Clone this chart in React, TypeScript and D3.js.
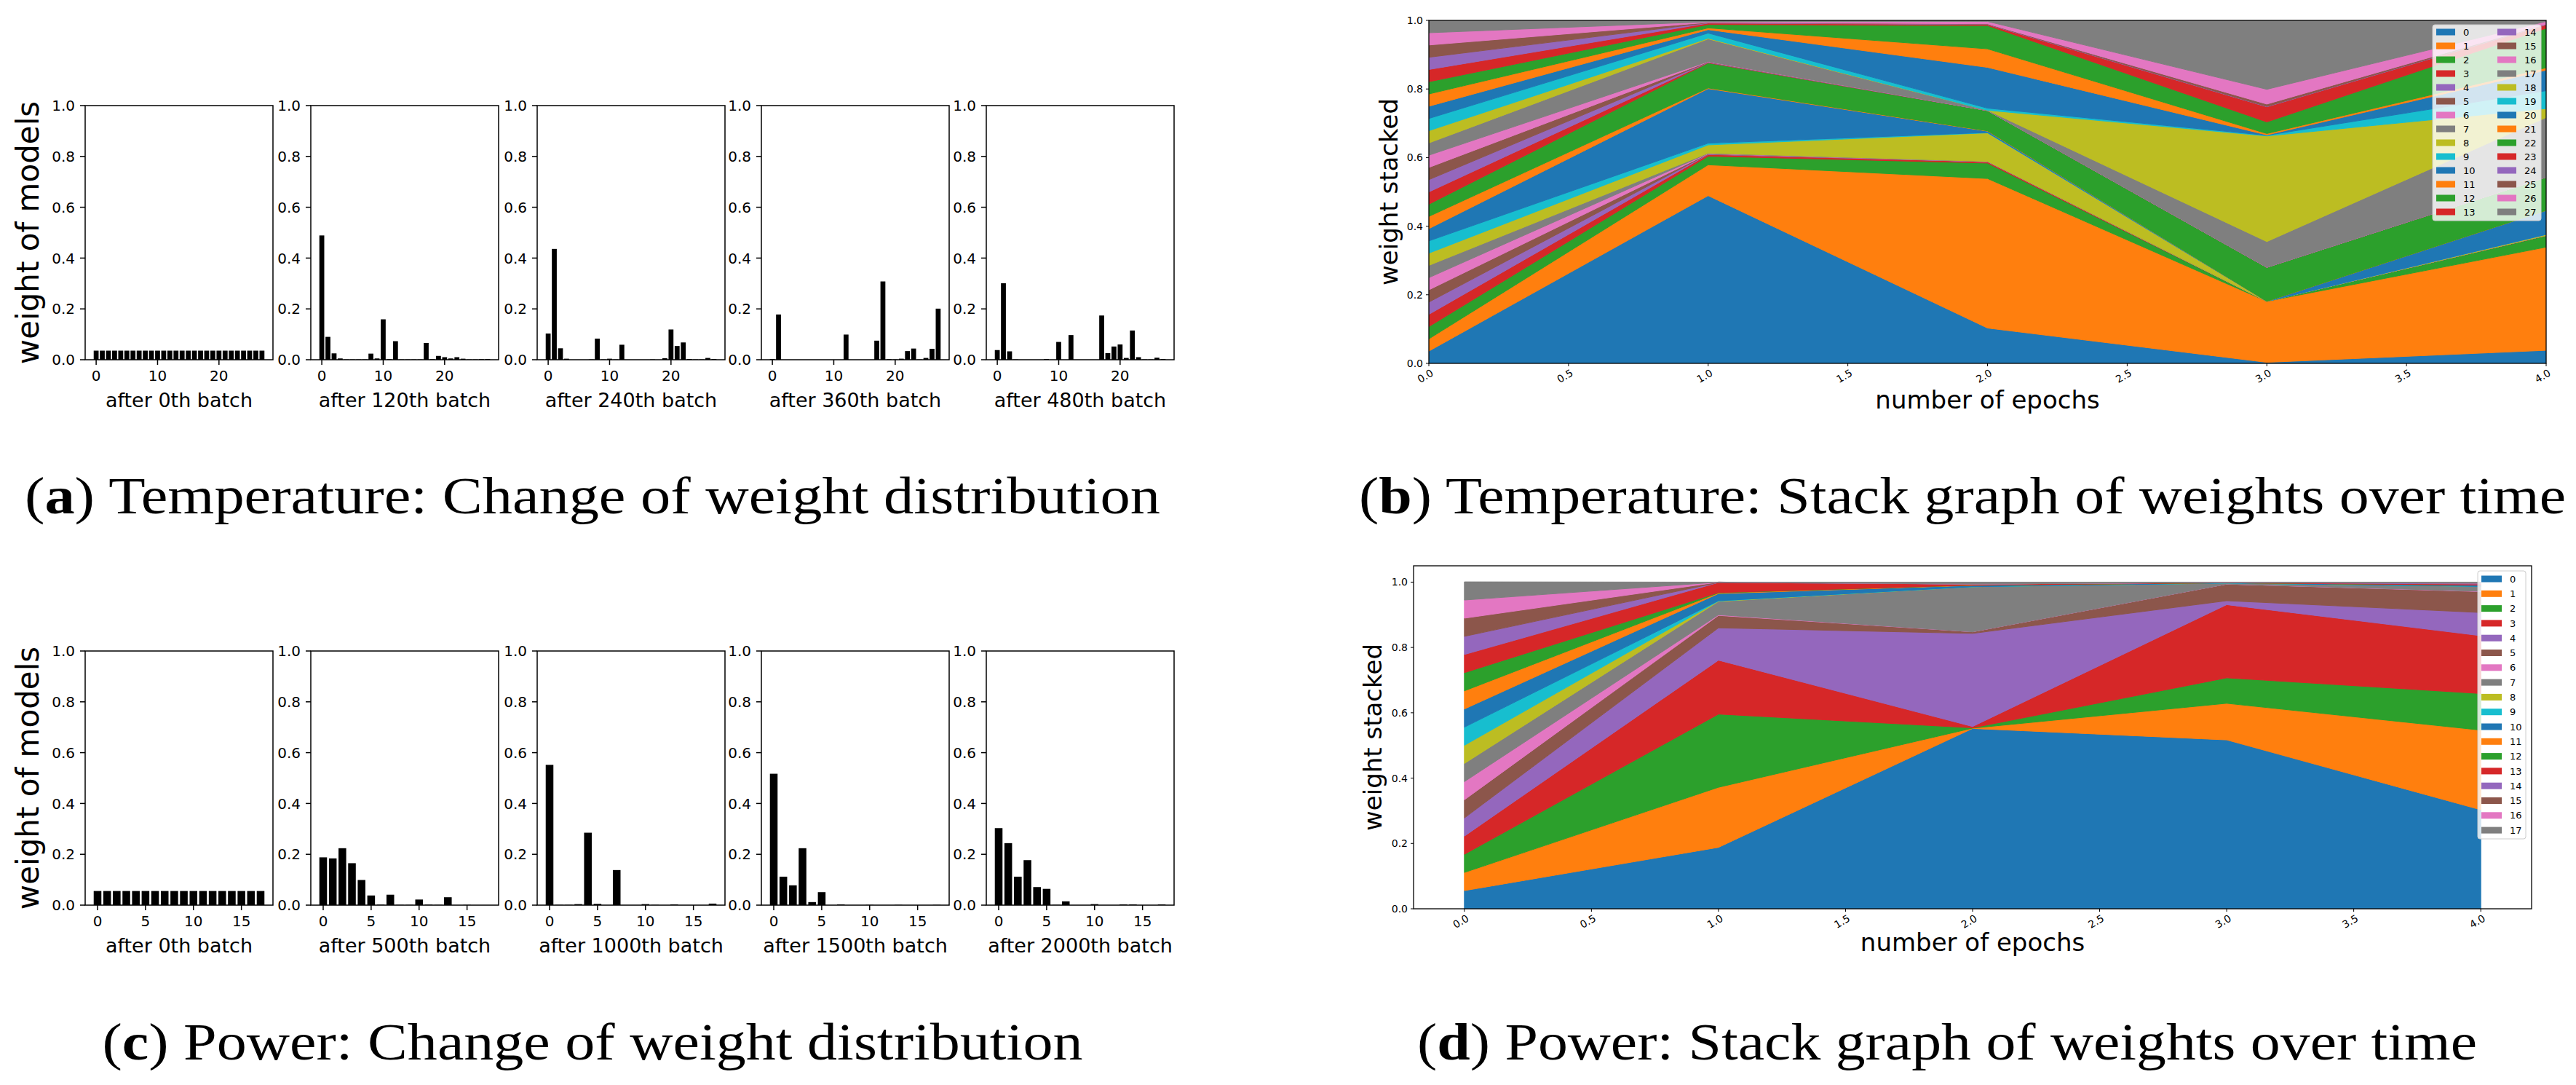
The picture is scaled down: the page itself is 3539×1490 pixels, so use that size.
import React from 'react';
import * as d3 from 'd3';

const TAB10 = ['#1f77b4', '#ff7f0e', '#2ca02c', '#d62728', '#9467bd', '#8c564b', '#e377c2', '#7f7f7f', '#bcbd22', '#17becf'];

// model ids (categories)
const tempModels = d3.range(28);
const powerModels = d3.range(18);
const epochs = [0, 1, 2, 3, 4];

const tempBatchLabels = ['after 0th batch', 'after 120th batch', 'after 240th batch', 'after 360th batch', 'after 480th batch'];
const powerBatchLabels = ['after 0th batch', 'after 500th batch', 'after 1000th batch', 'after 1500th batch', 'after 2000th batch'];

const barYTicks = [0, 0.2, 0.4, 0.6, 0.8, 1.0];
const tempXTicks = [0, 10, 20];
const powerXTicks = [0, 5, 10, 15];
const stackXTicks = [0, 0.5, 1.0, 1.5, 2.0, 2.5, 3.0, 3.5, 4.0];
const stackYTicks = [0, 0.2, 0.4, 0.6, 0.8, 1.0];

// temperature: weight of each model after each epoch (= 120 batches)
const tempEpoch0 = [0.0357, 0.0357, 0.0357, 0.0357, 0.0357, 0.0357, 0.0357, 0.0357, 0.0357, 0.0357, 0.0357, 0.0357, 0.0357, 0.0357,
  0.0357, 0.0357, 0.0357, 0.0357, 0.0357, 0.0357, 0.0357, 0.0357, 0.0357, 0.0357, 0.0357, 0.0357, 0.0357, 0.0357];
const tempEpoch1 = [0.489, 0.090, 0.025, 0.005, 0.001, 0.001, 0.001, 0.001, 0.024, 0.005, 0.159, 0.002, 0.073, 0.001,
  0.001, 0.001, 0.001, 0.066, 0.002, 0.015, 0.010, 0.005, 0.010, 0.004, 0.001, 0.001, 0.002, 0.003];
const tempEpoch2 = [0.103, 0.436, 0.045, 0.004, 0.000, 0.000, 0.000, 0.001, 0.083, 0.001, 0.004, 0.001, 0.059, 0.000,
  0.000, 0.000, 0.000, 0.001, 0.000, 0.006, 0.119, 0.054, 0.068, 0.003, 0.001, 0.001, 0.007, 0.003];
const tempEpoch3 = [0.003, 0.178, 0.000, 0.000, 0.000, 0.000, 0.000, 0.000, 0.000, 0.000, 0.000, 0.000, 0.099, 0.000,
  0.000, 0.000, 0.000, 0.075, 0.308, 0.002, 0.001, 0.004, 0.034, 0.044, 0.001, 0.007, 0.043, 0.201];
const tempEpoch4 = [0.038, 0.301, 0.033, 0.001, 0.000, 0.000, 0.000, 0.000, 0.003, 0.000, 0.070, 0.000, 0.097, 0.000,
  0.000, 0.000, 0.000, 0.174, 0.026, 0.052, 0.060, 0.007, 0.115, 0.010, 0.001, 0.001, 0.008, 0.003];

// power: weight of each model after each epoch (= 500 batches)
const powerEpoch0 = [0.0556, 0.0556, 0.0556, 0.0556, 0.0556, 0.0556, 0.0556, 0.0556, 0.0556,
  0.0556, 0.0556, 0.0556, 0.0556, 0.0556, 0.0556, 0.0556, 0.0556, 0.0556];
const powerEpoch1 = [0.188, 0.184, 0.224, 0.165, 0.099, 0.038, 0.002, 0.041, 0.001, 0.001, 0.022, 0.002, 0.001, 0.031, 0.000, 0.001, 0.000, 0.000];
const powerEpoch2 = [0.552, 0.001, 0.001, 0.004, 0.285, 0.005, 0.000, 0.138, 0.000, 0.000, 0.004, 0.001, 0.000, 0.003, 0.000, 0.000, 0.000, 0.006];
const powerEpoch3 = [0.517, 0.112, 0.078, 0.224, 0.012, 0.051, 0.000, 0.003, 0.000, 0.000, 0.001, 0.000, 0.000, 0.001, 0.000, 0.000, 0.000, 0.001];
const powerEpoch4 = [0.303, 0.244, 0.112, 0.177, 0.071, 0.064, 0.001, 0.015, 0.000, 0.000, 0.004, 0.000, 0.000, 0.003, 0.003, 0.000, 0.000, 0.003];

const tempWeights = [tempEpoch0, tempEpoch1, tempEpoch2, tempEpoch3, tempEpoch4];
const powerWeights = [powerEpoch0, powerEpoch1, powerEpoch2, powerEpoch3, powerEpoch4];

const SANS = 'DejaVu Sans';
const SERIF = 'Liberation Serif';
const fmt1 = d3.format('.1f');

interface BarPanelProps {
  left: number;
  top: number;
  width: number;
  height: number;
  values: number[];
  models: number[];
  xTicks: number[];
  label: string;
}

const BarPanel: React.FC<BarPanelProps> = ({ left, top, width, height, values, models, xTicks, label }) => {
  const n = models.length;
  const pad = 0.05 * (n - 1 + 0.8);
  const x = d3.scaleLinear().domain([-0.4 - pad, n - 1 + 0.4 + pad]).range([left, left + width]);
  const y = d3.scaleLinear().domain([0, 1]).range([top + height, top]);
  const bw = x(0.8) - x(0);
  const bottom = top + height;

  return (
    <g>
      {models.map((m, i) => (
        <rect key={m} x={x(m) - bw / 2} y={y(values[i])} width={bw} height={y(0) - y(values[i])} fill="#000" />
      ))}
      <rect x={left} y={top} width={width} height={height} fill="none" stroke="#000" strokeWidth={1.5} />
      {barYTicks.map((t) => (
        <g key={t}>
          <line x1={left - 7} x2={left} y1={y(t)} y2={y(t)} stroke="#000" strokeWidth={1.5} />
          <text x={left - 14} y={y(t)} dy="0.36em" textAnchor="end" fontFamily={SANS} fontSize={20}>{fmt1(t)}</text>
        </g>
      ))}
      {xTicks.map((t) => (
        <g key={t}>
          <line x1={x(t)} x2={x(t)} y1={bottom} y2={bottom + 7} stroke="#000" strokeWidth={1.5} />
          <text x={x(t)} y={bottom + 29} textAnchor="middle" fontFamily={SANS} fontSize={20}>{t}</text>
        </g>
      ))}
      <text x={left + width / 2} y={bottom + 65} textAnchor="middle" fontFamily={SANS} fontSize={27}>{label}</text>
    </g>
  );
};

interface StackPanelProps {
  frame: { left: number; top: number; right: number; bottom: number };
  xDomain: [number, number];
  yDomain: [number, number];
  weights: number[][];
  models: number[];
  legend: { left: number; top: number; width: number; height: number; cols: number; rowStart: number; rowStep: number; colStep: number; handleW: number };
  yLabelX: number;
  xLabelY: number;
}

const StackPanel: React.FC<StackPanelProps> = ({ frame, xDomain, yDomain, weights, models, legend, yLabelX, xLabelY }) => {
  const x = d3.scaleLinear().domain(xDomain).range([frame.left, frame.right]);
  const y = d3.scaleLinear().domain(yDomain).range([frame.bottom, frame.top]);
  const stack = d3.stack<number[], number>()
    .keys(models)
    .value((row, key) => row[key]);
  const series = stack(weights);
  const area = d3.area<d3.SeriesPoint<number[]>>()
    .x((d, i) => x(epochs[i]))
    .y0((d) => y(d[0]))
    .y1((d) => y(d[1]));
  const clipId = `clip-${frame.top}`;
  const perCol = Math.ceil(models.length / legend.cols);

  return (
    <g>
      <defs>
        <clipPath id={clipId}>
          <rect x={frame.left} y={frame.top} width={frame.right - frame.left} height={frame.bottom - frame.top} />
        </clipPath>
      </defs>
      <g clipPath={`url(#${clipId})`}>
        {series.map((s, i) => (
          <path key={i} d={area(s) || ''} fill={TAB10[i % 10]} stroke={TAB10[i % 10]} strokeWidth={1} />
        ))}
      </g>
      <rect x={frame.left} y={frame.top} width={frame.right - frame.left} height={frame.bottom - frame.top} fill="none" stroke="#000" strokeWidth={1.3} />
      {stackYTicks.map((t) => (
        <g key={t}>
          <line x1={frame.left - 4} x2={frame.left} y1={y(t)} y2={y(t)} stroke="#000" strokeWidth={1} />
          <text x={frame.left - 8} y={y(t)} dy="0.36em" textAnchor="end" fontFamily={SANS} fontSize={14}>{fmt1(t)}</text>
        </g>
      ))}
      {stackXTicks.map((t) => (
        <g key={t}>
          <line x1={x(t)} x2={x(t)} y1={frame.bottom} y2={frame.bottom + 4} stroke="#000" strokeWidth={1} />
          <text transform={`translate(${x(t) + 2},${frame.bottom + 7}) rotate(-30)`} dy="0.75em" textAnchor="end" fontFamily={SANS} fontSize={14}>{fmt1(t)}</text>
        </g>
      ))}
      <text transform={`translate(${yLabelX},${(frame.top + frame.bottom) / 2}) rotate(-90)`} dy="0.36em" textAnchor="middle" fontFamily={SANS} fontSize={34}>weight stacked</text>
      <text x={(x(0) + x(4)) / 2} y={xLabelY} textAnchor="middle" fontFamily={SANS} fontSize={34}>number of epochs</text>
      <rect x={legend.left} y={legend.top} width={legend.width} height={legend.height} rx={3} fill="#fff" fillOpacity={0.8} stroke="#cccccc" strokeWidth={1} />
      {models.map((m, i) => {
        const col = Math.floor(i / perCol);
        const row = i % perCol;
        const lx = legend.left + 5 + col * legend.colStep;
        const ly = legend.rowStart + row * legend.rowStep;
        return (
          <g key={m}>
            <rect x={lx} y={ly - 4.5} width={legend.handleW} height={9} fill={TAB10[i % 10]} />
            <text x={lx + legend.handleW + 11} y={ly} dy="0.36em" fontFamily={SANS} fontSize={13}>{m}</text>
          </g>
        );
      })}
    </g>
  );
};

const barLefts = [117, 427, 738, 1046, 1355];
const barW = 258;

const App: React.FC = () => {
  return (
    <svg width={3539} height={1490} style={{ position: 'absolute', left: 0, top: 0, background: '#fff' }}>
      <rect x={0} y={0} width={3539} height={1490} fill="#fff" />

      {/* (a) temperature bars */}
      {tempBatchLabels.map((lab, i) => (
        <BarPanel key={lab} left={barLefts[i]} top={145} width={barW} height={349} values={tempWeights[i]} models={tempModels} xTicks={tempXTicks} label={lab} />
      ))}
      <text transform="translate(38,319.5) rotate(-90)" dy="0.36em" textAnchor="middle" fontFamily={SANS} fontSize={42}>weight of models</text>

      {/* (c) power bars */}
      {powerBatchLabels.map((lab, i) => (
        <BarPanel key={lab} left={barLefts[i]} top={894} width={barW} height={349} values={powerWeights[i]} models={powerModels} xTicks={powerXTicks} label={lab} />
      ))}
      <text transform="translate(38,1068.5) rotate(-90)" dy="0.36em" textAnchor="middle" fontFamily={SANS} fontSize={42}>weight of models</text>

      {/* (b) temperature stack */}
      <StackPanel
        frame={{ left: 1963, top: 28, right: 3498, bottom: 499 }}
        xDomain={[0, 4]}
        yDomain={[0, 1]}
        weights={tempWeights}
        models={tempModels}
        legend={{ left: 3342, top: 34, width: 149, height: 269, cols: 2, rowStart: 44, rowStep: 19, colStep: 84, handleW: 26 }}
        yLabelX={1908}
        xLabelY={561}
      />

      {/* (d) power stack */}
      <StackPanel
        frame={{ left: 1942, top: 777, right: 3478, bottom: 1248 }}
        xDomain={[-0.2, 4.2]}
        yDomain={[0, 1.05]}
        weights={powerWeights}
        models={powerModels}
        legend={{ left: 3404, top: 784, width: 66, height: 368, cols: 1, rowStart: 795, rowStep: 20.3, colStep: 0, handleW: 28 }}
        yLabelX={1886}
        xLabelY={1306}
      />

      {/* captions */}
      <text x={814} y={705} textAnchor="middle" fontFamily={SERIF} fontSize={72} textLength={1560} lengthAdjust="spacingAndGlyphs">
        (<tspan fontWeight="bold">a</tspan>) Temperature: Change of weight distribution
      </text>
      <text x={2696} y={705} textAnchor="middle" fontFamily={SERIF} fontSize={72} textLength={1658} lengthAdjust="spacingAndGlyphs">
        (<tspan fontWeight="bold">b</tspan>) Temperature: Stack graph of weights over time
      </text>
      <text x={814} y={1455} textAnchor="middle" fontFamily={SERIF} fontSize={72} textLength={1347} lengthAdjust="spacingAndGlyphs">
        (<tspan fontWeight="bold">c</tspan>) Power: Change of weight distribution
      </text>
      <text x={2675} y={1455} textAnchor="middle" fontFamily={SERIF} fontSize={72} textLength={1456} lengthAdjust="spacingAndGlyphs">
        (<tspan fontWeight="bold">d</tspan>) Power: Stack graph of weights over time
      </text>
    </svg>
  );
};

export default App;
